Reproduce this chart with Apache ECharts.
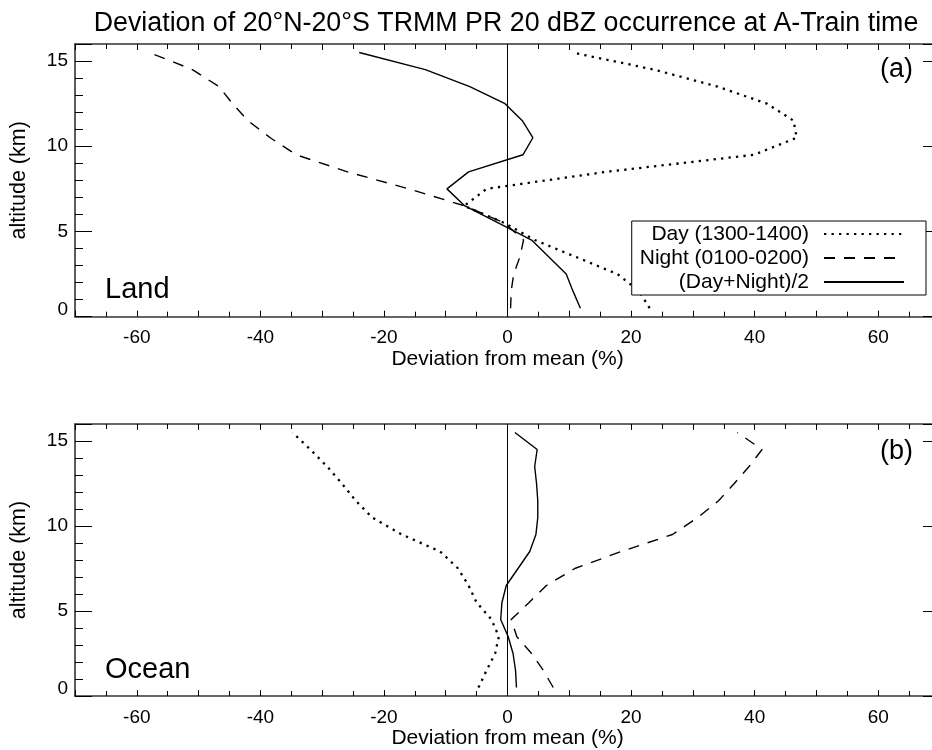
<!DOCTYPE html>
<html>
<head>
<meta charset="utf-8">
<script src="https://cdn.jsdelivr.net/npm/echarts@6/dist/echarts.min.js"></script>
<style>
html,body{margin:0;padding:0;background:#fff;overflow:hidden;}
#chart{width:945px;height:750px;}
</style>
</head>
<body>
<div id="chart"></div>
<script>
// altitude levels (km)
var altitudes = [0.5, 1.5, 2.5, 3.5, 4.5, 5.5, 6.5, 7.5, 8.5, 9.5, 10.5, 11.5, 12.5, 13.5, 14.5, 15.5];
// Land deviations (%)
var landDay   = [23, 21.3, 17.8, 11.1, 4.4, -0.5, -7, -3.4, 16, 39.9, 46.8, 46.3, 42, 34, 23.7, 10.5];
var landNight = [0.5, 0.6, 1.0, 2.0, 2.6, -0.5, -6.9, -16, -25.9, -34.2, -38.4, -42, -44.5, -46.7, -51, -58];
var landMean  = [11.8, 10.6, 9.5, 6.7, 3.9, -1.5, -6.9, -9.8, -6.3, 2.5, 4.1, 2.4, -0.4, -6.1, -13.3, -24];
// Ocean deviations (%)
var oceanDay   = [-4.7, -3.4, -2.0, -1.4, -2.6, -5, -6.3, -8, -10.9, -17.1, -21.9, -24.6, -26.8, -29.2, -31.9, -34.8];
var oceanNight = [7.4, 5.8, 3.9, 1.5, 0.6, 3.5, 6.3, 10.9, 18.4, 26.7, 30.8, 34.2, 36.7, 39.1, 41.2, 37.2];
var oceanMean  = [1.45, 1.3, 0.9, 0.1, -1.1, -0.9, -0.2, 1.7, 3.6, 4.6, 4.9, 4.9, 4.7, 4.4, 4.8, 1.2];
// texts
var seriesNames = ['Day (1300-1400)', 'Night (0100-0200)', '(Day+Night)/2'];
var titleText = 'Deviation of 20\u00B0N-20\u00B0S TRMM PR 20 dBZ occurrence at A-Train time';
var xName = 'Deviation from mean (%)';
var yName = 'altitude (km)';
var panelNames = ['Land', 'Ocean'];
var panelTags = ['(a)', '(b)'];

var FONT = 'Liberation Sans, Arial, Helvetica, sans-serif';

function pairs(vals) {
  return vals.map(function (v, i) { return [v, altitudes[i]]; });
}

var chart = echarts.init(document.getElementById('chart'), null, {renderer: 'canvas'});

var axisLineStyle = {color: '#333', width: 1.6};

function xAxes(gi) {
  var base = {
    gridIndex: gi, type: 'value', min: -70, max: 70, interval: 10,
    axisLine: {show: true, onZero: false, lineStyle: axisLineStyle},
    axisTick: {show: true, inside: true, length: 6, lineStyle: {color: '#000', width: 1}},
    minorTick: {show: true, splitNumber: 2, length: 5, lineStyle: {color: '#000', width: 1}},
    splitLine: {show: false}, minorSplitLine: {show: false}
  };
  var bottom = Object.assign({}, base, {
    position: 'bottom',
    axisLabel: {
      show: true, margin: 12, fontSize: 19, color: '#000', fontFamily: FONT,
      formatter: function (v) { return (v % 20 === 0 && Math.abs(v) < 70) ? String(v) : ''; }
    },
    name: xName, nameLocation: 'middle', nameGap: 30,
    nameTextStyle: {fontSize: 21, color: '#000', fontFamily: FONT}
  });
  var top = Object.assign({}, base, {position: 'top', axisLabel: {show: false}});
  return [bottom, top];
}

function yAxes(gi) {
  var base = {
    gridIndex: gi, type: 'value', min: 0, max: 16, interval: 5,
    axisLine: {show: true, onZero: false, lineStyle: axisLineStyle},
    axisTick: {show: true, inside: true, length: 17, lineStyle: {color: '#000', width: 1}},
    minorTick: {show: true, splitNumber: 5, length: 8, lineStyle: {color: '#000', width: 1}},
    splitLine: {show: false}, minorSplitLine: {show: false}
  };
  var left = Object.assign({}, base, {
    position: 'left',
    axisLabel: {
      show: true, margin: 7, fontSize: 19, lineHeight: 14, color: '#000', fontFamily: FONT,
      showMaxLabel: false, verticalAlignMinLabel: 'bottom',
      formatter: function (v) { return v > 15 ? '' : String(v); }
    },
    name: yName, nameLocation: 'middle', nameGap: 45,
    nameTextStyle: {fontSize: 21.5, color: '#000', fontFamily: FONT}
  });
  var right = Object.assign({}, base, {position: 'right', axisLabel: {show: false}});
  return [left, right];
}

var dotStyle  = {color: '#000', width: 2.3, type: [2.3, 5.2]};
var dashStyle = {color: '#000', width: 1.4, type: [11, 9]};
var solidStyle = {color: '#000', width: 1.4, type: 'solid'};

function lineSeries(name, vals, gi, style, withZero) {
  var s = {
    name: name, type: 'line', xAxisIndex: gi * 2, yAxisIndex: gi * 2,
    data: pairs(vals), symbol: 'none', showSymbol: false, smooth: false,
    lineStyle: style, itemStyle: {color: '#000'}, silent: true, z: 3
  };
  if (withZero) {
    s.markLine = {
      symbol: ['none', 'none'], silent: true, label: {show: false},
      lineStyle: {color: '#000', width: 1, type: 'solid'},
      data: [{xAxis: 0}]
    };
  }
  return s;
}

var xa = xAxes(0).concat(xAxes(1));
var ya = yAxes(0).concat(yAxes(1));

var option = {
  animation: false,
  backgroundColor: '#fff',
  textStyle: {fontFamily: FONT},
  grid: [
    {left: 73, top: 44, width: 867, height: 272.7, containLabel: false},
    {left: 73, top: 424, width: 867, height: 272, containLabel: false}
  ],
  xAxis: xa,
  yAxis: ya,
  legend: {
    show: true, data: seriesNames, orient: 'vertical', align: 'right',
    right: 19, top: 221, itemWidth: 80, itemHeight: 14, itemGap: 2,
    padding: [2, 21, 2, 8], borderColor: '#000', borderWidth: 1,
    backgroundColor: '#fff', selectedMode: false, z: 10,
    itemStyle: {color: 'rgba(0,0,0,0)', borderColor: 'rgba(0,0,0,0)', borderWidth: 0},
    textStyle: {fontSize: 21, lineHeight: 22, color: '#000', fontFamily: FONT, padding: [0, 10, 0, 0]}
  },
  graphic: [
    {type: 'text', x: 506, y: 24, style: {text: titleText, align: 'center', verticalAlign: 'middle', fontSize: 26.8, fill: '#000', fontFamily: FONT}},
    {type: 'text', x: 105, y: 290, style: {text: panelNames[0], align: 'left', verticalAlign: 'middle', fontSize: 29, fill: '#000', fontFamily: FONT}},
    {type: 'text', x: 105, y: 670, style: {text: panelNames[1], align: 'left', verticalAlign: 'middle', fontSize: 29, fill: '#000', fontFamily: FONT}},
    {type: 'text', x: 913, y: 70, style: {text: panelTags[0], align: 'right', verticalAlign: 'middle', fontSize: 27, fill: '#000', fontFamily: FONT}},
    {type: 'text', x: 913, y: 452, style: {text: panelTags[1], align: 'right', verticalAlign: 'middle', fontSize: 27, fill: '#000', fontFamily: FONT}}
  ],
  series: [
    lineSeries(seriesNames[0], landDay, 0, dotStyle, false),
    lineSeries(seriesNames[1], landNight, 0, dashStyle, false),
    lineSeries(seriesNames[2], landMean, 0, solidStyle, true),
    lineSeries(seriesNames[0], oceanDay, 1, dotStyle, false),
    lineSeries(seriesNames[1], oceanNight, 1, dashStyle, false),
    lineSeries(seriesNames[2], oceanMean, 1, solidStyle, true)
  ]
};
chart.setOption(option);
</script>
</body>
</html>
